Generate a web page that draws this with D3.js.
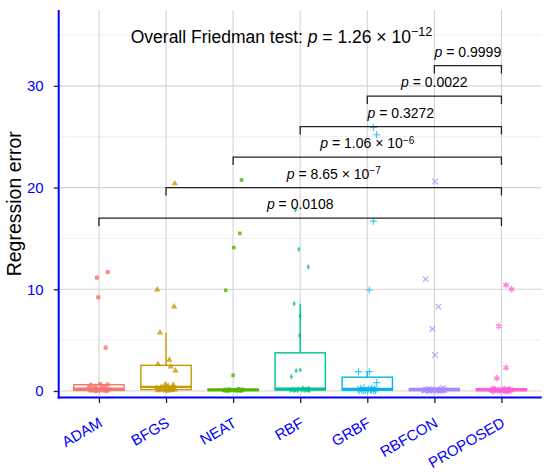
<!DOCTYPE html>
<html>
<head>
<meta charset="utf-8">
<script src="https://cdn.jsdelivr.net/npm/d3@7"></script>
<style>
body { margin: 0; background: #fff; }
svg { display: block; font-family: "Liberation Sans", Arial, sans-serif; }
</style>
</head>
<body>
<svg id="chart" width="550" height="473"></svg>
<script>
// methods and colours (ggplot hue palette)
const methods = ["ADAM", "BFGS", "NEAT", "RBF", "GRBF", "RBFCON", "PROPOSED"];
const colors = ["#F8766D", "#C49A00", "#53B400", "#00C094", "#00B6EB", "#A58AFF", "#FB61D7"];

// regression error per method and jitter (fraction of a category step)
const adamErr = [11.7, 11.14, 9.2, 4.26, 0.68, 0.64, 0.6, 0.5, 0.42, 0.35, 0.3, 0.22, 0.18, 0.15, 0.12, 0.09, 0.07, 0.05, 0.04, 0.03, 0.02, 0.01, 0.0];
const adamJit = [0.13, -0.03, -0.01, 0.10, 0.02, 0.13, -0.12, -0.05, 0.08, -0.15, 0.04, -0.08, 0.11, -0.02, 0.15, -0.10, 0.06, -0.13, 0.01, 0.09, -0.06, 0.12, -0.04];
const bfgsErr = [20.4, 9.96, 8.29, 5.73, 3.05, 2.65, 2.39, 2.0, 0.66, 0.6, 0.5, 0.4, 0.35, 0.3, 0.25, 0.2, 0.15, 0.12, 0.1, 0.08, 0.06, 0.04, 0.02];
const bfgsJit = [0.13, -0.13, 0.12, -0.09, 0.05, -0.12, 0.07, 0.14, -0.01, 0.11, 0.03, -0.07, 0.09, -0.14, 0.01, 0.06, -0.10, 0.13, -0.04, 0.08, -0.12, 0.00, 0.04];
const neatErr = [20.75, 15.5, 14.1, 9.9, 1.54, 0.22, 0.18, 0.16, 0.14, 0.12, 0.1, 0.09, 0.08, 0.07, 0.06, 0.05, 0.05, 0.04, 0.03, 0.03, 0.02, 0.01, 0.01];
const neatJit = [0.125, 0.10, 0.01, -0.11, 0.0, 0.08, -0.06, 0.14, -0.12, 0.03, 0.11, -0.02, -0.09, 0.06, 0.13, -0.14, 0.02, -0.05, 0.09, -0.11, 0.05, 0.12, -0.08];
const rbfErr = [17.8, 13.93, 12.2, 8.59, 7.37, 5.44, 2.06, 2.0, 1.41, 0.3, 0.26, 0.22, 0.2, 0.18, 0.15, 0.12, 0.1, 0.08, 0.06, 0.05, 0.04, 0.03, 0.02];
const rbfJit = [-0.07, -0.02, 0.12, -0.09, 0.0, -0.01, 0.0, -0.06, -0.13, 0.04, 0.12, -0.03, 0.08, -0.11, 0.14, -0.07, 0.02, 0.10, -0.14, 0.06, -0.04, 0.13, -0.09];
const grbfErr = [25.9, 25.2, 16.7, 9.93, 1.9, 1.9, 0.82, 0.35, 0.3, 0.28, 0.25, 0.2, 0.18, 0.15, 0.12, 0.1, 0.08, 0.07, 0.06, 0.05, 0.04, 0.03, 0.02];
const grbfJit = [0.09, 0.14, 0.09, 0.03, -0.13, 0.03, 0.14, -0.05, 0.07, 0.11, -0.10, 0.02, -0.14, 0.05, 0.13, -0.08, 0.00, 0.09, -0.03, -0.12, 0.06, 0.12, -0.06];
const rbfconErr = [20.6, 11.0, 8.29, 6.1, 3.54, 0.3, 0.2, 0.18, 0.15, 0.13, 0.12, 0.1, 0.09, 0.08, 0.07, 0.06, 0.05, 0.04, 0.03, 0.03, 0.02, 0.01, 0.01];
const rbfconJit = [0.01, -0.13, 0.06, -0.03, 0.01, 0.13, -0.08, 0.10, -0.12, 0.04, 0.15, -0.05, 0.08, -0.14, 0.02, 0.11, -0.10, 0.06, -0.02, 0.13, -0.07, 0.09, -0.15];
const proposedErr = [10.42, 10.0, 6.36, 2.29, 1.25, 0.25, 0.2, 0.18, 0.15, 0.12, 0.1, 0.09, 0.08, 0.07, 0.06, 0.05, 0.04, 0.03, 0.03, 0.02, 0.01, 0.01, 0.0];
const proposedJit = [0.07, 0.15, -0.04, 0.07, -0.07, -0.12, 0.05, 0.13, -0.09, 0.02, 0.10, -0.15, 0.08, -0.03, 0.12, -0.06, 0.14, -0.11, 0.04, -0.01, 0.09, -0.13, 0.06];

// pairwise comparisons against PROPOSED
const compFrom = ["ADAM", "BFGS", "NEAT", "RBF", "GRBF", "RBFCON"];
const compTo = "PROPOSED";
const compY = [17, 20, 23, 26, 29, 32];
const compP = ["0.0108", "8.65", "1.06", "0.3272", "0.0022", "0.9999"];
const compExp = [null, "\u22127", "\u22126", null, null, null];

const yMajor = [0, 10, 20, 30];
const yMinor = [5, 15, 25, 35];

const errs = [adamErr, bfgsErr, neatErr, rbfErr, grbfErr, rbfconErr, proposedErr];
const jits = [adamJit, bfgsJit, neatJit, rbfJit, grbfJit, rbfconJit, proposedJit];

const pLeft = 58.7, pRight = 541.7, pTop = 10, pBottom = 397.5;
const blue = "#0000FF";

const svg = d3.select("#chart");

const x = d3.scalePoint().domain(methods).range([pLeft, pRight]).padding(0.6);
const step = x.step();
const y = d3.scaleLinear().domain([-0.64, 37.46]).range([pBottom, pTop]);
const color = d3.scaleOrdinal().domain(methods).range(colors);

// grid
const grid = svg.append("g");
grid.selectAll(".minor").data(yMinor).join("line")
  .attr("x1", pLeft).attr("x2", pRight)
  .attr("y1", d => y(d)).attr("y2", d => y(d))
  .attr("stroke", "#ebebeb").attr("stroke-width", 0.8);
grid.selectAll(".major").data(yMajor).join("line")
  .attr("x1", pLeft).attr("x2", pRight)
  .attr("y1", d => y(d)).attr("y2", d => y(d))
  .attr("stroke", "#d4d4d4").attr("stroke-width", 1.1);
grid.selectAll(".vmajor").data(methods).join("line")
  .attr("x1", d => x(d)).attr("x2", d => x(d))
  .attr("y1", pTop).attr("y2", pBottom)
  .attr("stroke", "#d4d4d4").attr("stroke-width", 1.1);

// boxplot stats
const stats = methods.map((m, i) => {
  const s = errs[i].slice().sort(d3.ascending);
  const q1 = d3.quantileSorted(s, 0.25), med = d3.quantileSorted(s, 0.5), q3 = d3.quantileSorted(s, 0.75);
  const iqr = q3 - q1;
  const hi = d3.max(s.filter(v => v <= q3 + 1.5 * iqr));
  const lo = d3.min(s.filter(v => v >= q1 - 1.5 * iqr));
  return { m, q1, med, q3, hi, lo };
});

const boxW = step * 0.75;
const boxes = svg.append("g").selectAll("g").data(stats).join("g");
boxes.append("line")
  .attr("x1", d => x(d.m)).attr("x2", d => x(d.m))
  .attr("y1", d => y(d.q3)).attr("y2", d => y(d.hi))
  .attr("stroke", d => color(d.m)).attr("stroke-width", 1.4);
boxes.append("line")
  .attr("x1", d => x(d.m)).attr("x2", d => x(d.m))
  .attr("y1", d => y(d.q1)).attr("y2", d => y(d.lo))
  .attr("stroke", d => color(d.m)).attr("stroke-width", 1.4);
boxes.append("rect")
  .attr("x", d => x(d.m) - boxW / 2).attr("width", boxW)
  .attr("y", d => y(d.q3)).attr("height", d => Math.max(0.5, y(d.q1) - y(d.q3)))
  .attr("fill", "#fff").attr("stroke", d => color(d.m)).attr("stroke-width", 1.4);
boxes.append("line")
  .attr("x1", d => x(d.m) - boxW / 2).attr("x2", d => x(d.m) + boxW / 2)
  .attr("y1", d => y(d.med)).attr("y2", d => y(d.med))
  .attr("stroke", d => color(d.m)).attr("stroke-width", 2.4);

// jittered points
const shapes = [
  { type: d3.symbolCircle, size: 17, fill: true },
  { type: d3.symbolTriangle, size: 17, fill: true },
  { type: d3.symbolSquare, size: 13, fill: true },
  { type: d3.symbolDiamond, size: 9, fill: true },
  { type: d3.symbolPlus, size: 18, fill: false },
  { type: d3.symbolX, size: 22, fill: false },
  { type: d3.symbolAsterisk, size: 30, fill: false }
];
const points = methods.flatMap((m, i) => errs[i].map((v, k) => ({ m, i, v, j: jits[i][k] })));
svg.append("g").selectAll("path").data(points).join("path")
  .attr("transform", d => `translate(${x(d.m) + d.j * step},${y(d.v)})`)
  .attr("d", d => d3.symbol(shapes[d.i].type, shapes[d.i].size)())
  .attr("fill", d => shapes[d.i].fill ? color(d.m) : "none")
  .attr("stroke", d => shapes[d.i].fill ? "none" : color(d.m))
  .attr("stroke-width", d => d.i === 6 ? 1.3 : 1.1)
  .attr("opacity", 0.8);

// comparison brackets
const tickLen = 0.78;
const br = svg.append("g").selectAll("g").data(compFrom).join("g");
br.append("path")
  .attr("d", (d, i) => `M${x(d)},${y(compY[i] - tickLen)}V${y(compY[i])}H${x(compTo)}V${y(compY[i] - tickLen)}`)
  .attr("fill", "none").attr("stroke", "#222").attr("stroke-width", 1.3);
const lab = br.append("text")
  .attr("x", d => (x(d) + x(compTo)) / 2)
  .attr("y", (d, i) => y(compY[i]) - 9)
  .attr("text-anchor", "middle")
  .style("font-size", "14px").style("fill", "#000");
lab.append("tspan").style("font-style", "italic").text("p");
lab.append("tspan").text((d, i) => " = " + compP[i] + (compExp[i] ? " \u00d7 10" : ""));
lab.filter((d, i) => compExp[i]).append("tspan")
  .attr("dy", "-0.45em").style("font-size", "10px")
  .text(d => compExp[compFrom.indexOf(d)]);

// overall test
const title = svg.append("text")
  .attr("x", x("NEAT") + 0.72 * step)
  .attr("y", y(34.25))
  .attr("text-anchor", "middle")
  .style("font-size", "17.5px").style("fill", "#000");
title.append("tspan").text("Overall Friedman test: ");
title.append("tspan").style("font-style", "italic").text("p");
title.append("tspan").text(" = 1.26 \u00d7 10");
title.append("tspan").attr("dy", "-0.5em").style("font-size", "12.5px").text("\u221212");

// axes
const yAxis = svg.append("g").attr("transform", `translate(${pLeft},0)`)
  .call(d3.axisLeft(y).tickValues(yMajor).tickSize(5).tickPadding(10).tickFormat(d3.format("d")));
const xAxis = svg.append("g").attr("transform", `translate(0,${pBottom})`)
  .call(d3.axisBottom(x).tickSize(5.5).tickFormat(""));
[yAxis, xAxis].forEach(a => {
  a.select(".domain").remove();
  a.selectAll(".tick line").attr("stroke", "#222").attr("stroke-width", 1.3);
});
yAxis.selectAll(".tick text").style("font-size", "15px").attr("fill", blue)
  .style("font-family", "'Liberation Sans', Arial, sans-serif");

svg.append("line").attr("x1", pLeft).attr("x2", pLeft).attr("y1", pTop).attr("y2", pBottom + 1)
  .attr("stroke", blue).attr("stroke-width", 2);
svg.append("line").attr("x1", pLeft - 1).attr("x2", pRight).attr("y1", pBottom).attr("y2", pBottom)
  .attr("stroke", blue).attr("stroke-width", 2);

// rotated category labels
svg.append("g").selectAll("text").data(methods).join("text")
  .attr("transform", d => `translate(${x(d) - 1},${pBottom + 19}) rotate(-30)`)
  .attr("text-anchor", "end")
  .attr("dy", "0.72em")
  .style("font-size", "15px").style("fill", blue)
  .text(d => d);

// y title
svg.append("text")
  .attr("transform", `translate(21,${(pTop + pBottom) / 2}) rotate(-90)`)
  .attr("text-anchor", "middle")
  .style("font-size", "19.5px").style("fill", "#000")
  .text("Regression error");
</script>
</body>
</html>
